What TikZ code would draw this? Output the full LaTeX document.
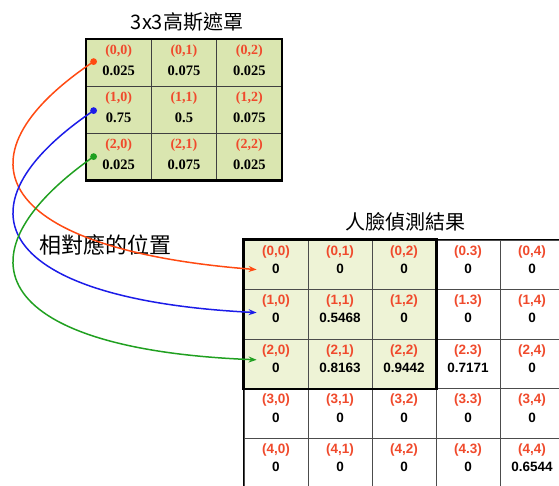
\documentclass[tikz,border=0pt]{standalone}
\usepackage{fontspec}
\setmainfont{Liberation Serif}
\newfontfamily\gridfont{Liberation Sans}
\newfontfamily\cjk{Noto Sans CJK TC}
\usetikzlibrary{arrows.meta,calc}
\definecolor{maskfill}{HTML}{DAE6B0}
\definecolor{hlfill}{HTML}{EEF3D6}
\definecolor{labred}{HTML}{F04A2C}
\definecolor{cred}{HTML}{FF4A12}
\definecolor{cblue}{HTML}{1C1CE8}
\definecolor{cgreen}{HTML}{20A020}
\tikzset{
  maskcell/.style={draw=black!75,line width=0.8pt,fill=maskfill,minimum width=65.33pt,minimum height=47pt,inner sep=0pt},
  masklab/.style={text=labred,font=\bfseries\fontsize{14}{14}\selectfont,inner sep=0pt},
  maskval/.style={text=black,font=\bfseries\fontsize{14.5}{14.5}\selectfont,inner sep=0pt},
  gridcell/.style={draw=black!70,line width=0.8pt,minimum width=64pt,minimum height=49.6pt,inner sep=0pt},
  gridlab/.style={text=labred,font=\gridfont\bfseries\fontsize{13.5}{13.5}\selectfont,inner sep=0pt},
  gridval/.style={text=black,font=\gridfont\bfseries\fontsize{13.5}{13.5}\selectfont,inner sep=0pt},
  title/.style={font=\cjk\fontsize{20}{20}\selectfont,inner sep=0pt},
  link/.style={line width=1.5pt,-{Stealth[length=8pt,width=6pt]}},
}
\begin{document}
\begin{tikzpicture}[x=1pt,y=-1pt]
\useasboundingbox (0,0) rectangle (559,485);
\clip (0,0) rectangle (559,485);

% ---- 3x3 mask ----
\node[title] (t1) at (187,22) {3x3高斯遮罩};
\foreach \r/\c/\v in {0/0/0.025,0/1/0.075,0/2/0.025,1/0/0.75,1/1/0.5,1/2/0.075,2/0/0.025,2/1/0.075,2/2/0.025}{
  \node[maskcell] (m\r\c) at ({86+(\c+0.5)*65.33},{39+(\r+0.5)*47}) {};
  \node[masklab] (ml\r\c) at ($(m\r\c.north)+(0,13)$) {(\r,\c)};
  \node[maskval] (mv\r\c) at ($(m\r\c.north)+(0,32)$) {\v};
}
\draw[line width=2.2pt] (m00.north west) rectangle (m22.south east);

% ---- 5x5 grid ----
\node[title] (t2) at (405,222) {人臉偵測結果};
\foreach \r/\c/\v/\f in {
 0/0/0/hlfill,0/1/0/hlfill,0/2/0/hlfill,0/3/0/white,0/4/0/white,
 1/0/0/hlfill,1/1/0.5468/hlfill,1/2/0/hlfill,1/3/0/white,1/4/0/white,
 2/0/0/hlfill,2/1/0.8163/hlfill,2/2/0.9442/hlfill,2/3/0.7171/white,2/4/0/white,
 3/0/0/white,3/1/0/white,3/2/0/white,3/3/0/white,3/4/0/white,
 4/0/0/white,4/1/0/white,4/2/0/white,4/3/0/white,4/4/0.6544/white}{
  \node[gridcell,fill=\f] (g\r\c) at ({244+(\c+0.5)*64},{240+(\r+0.5)*49.6}) {};
  \node[gridlab] (gl\r\c) at ($(g\r\c.north)+(0,12)$) {(\r\ifnum\c=3 .\else,\fi\c)};
  \node[gridval] (gv\r\c) at ($(g\r\c.north)+(0,29)$) {\v};
}
\draw[line width=1.6pt] (g40.south west) -- (g00.north west) -- (g04.north east);
\draw[line width=2.4pt] (g00.north west) rectangle (g22.south east);

% ---- label ----
\node[font=\cjk\fontsize{22}{22}\selectfont,inner sep=0pt,anchor=west] (lbl) at (39,245) {相對應的位置};

% ---- connectors ----
\coordinate (dr) at ($(m00.north west)+(8,23)$);
\coordinate (db) at ($(m10.north west)+(8,25)$);
\coordinate (dg) at ($(m20.north west)+(8,24)$);
\coordinate (er) at ($(g00.north west)+(13,30)$);
\coordinate (eb) at ($(g10.north west)+(13,23.4)$);
\coordinate (eg) at ($(g20.north west)+(13,21)$);
\draw[link,cred] (dr) .. controls +(-146,98) and +(-257,-20) .. (er);
\draw[link,cblue] (db) .. controls +(-146,99) and +(-257,-13) .. (eb);
\draw[link,cgreen] (dg) .. controls +(-146,103) and +(-257,-10) .. (eg);
\fill[cred] (dr) circle (3.4);
\fill[cblue] (db) circle (3.4);
\fill[cgreen] (dg) circle (3.4);
\end{tikzpicture}
\end{document}
